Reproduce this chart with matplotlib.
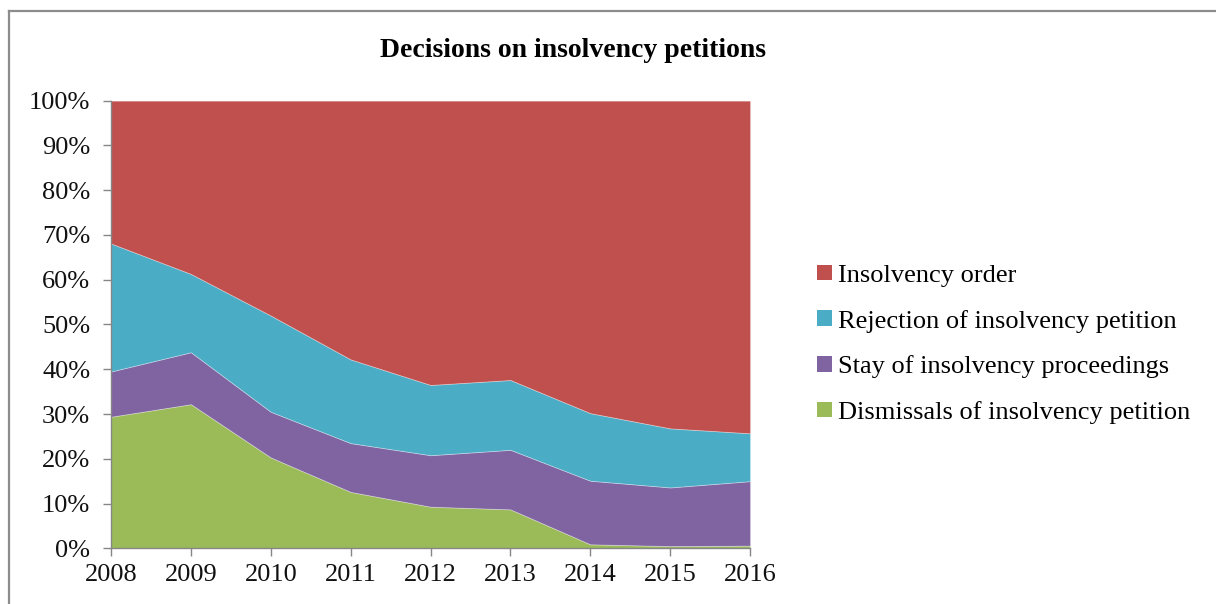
import matplotlib
matplotlib.use("Agg")
import matplotlib.pyplot as plt
from matplotlib.patches import Patch
from matplotlib.lines import Line2D
from matplotlib.ticker import FuncFormatter, MultipleLocator
import numpy as np

# Shares of decisions per year (percent of all decisions)
years = [2008, 2009, 2010, 2011, 2012, 2013, 2014, 2015, 2016]
dismissals = [29.4, 32.2, 20.3, 12.6, 9.3, 8.7, 0.9, 0.5, 0.6]
stay = [10.1, 11.6, 10.2, 10.9, 11.5, 13.3, 14.2, 13.1, 14.4]
rejection = [28.6, 17.5, 21.5, 18.7, 15.7, 15.6, 15.1, 13.2, 10.7]
insolvency_order = [31.9, 38.7, 48.0, 57.8, 63.5, 62.4, 69.8, 73.2, 74.3]

series_labels = [
    "Dismissals of insolvency petition",
    "Stay of insolvency proceedings",
    "Rejection of insolvency petition",
    "Insolvency order",
]
series_colors = ["#9BBB59", "#8064A2", "#4BACC6", "#C0504D"]

plt.rcParams["font.family"] = ["Liberation Serif", "DejaVu Serif"]

fig = plt.figure(figsize=(12.16, 6.04), dpi=100)
ax = fig.add_axes([0.0913, 0.0922, 0.5255, 0.7411])

data = np.array([dismissals, stay, rejection, insolvency_order], dtype=float)
data = data / data.sum(axis=0) * 100.0

ax.stackplot(years, data, colors=series_colors, linewidth=0.6,
             edgecolor=(1, 1, 1, 0.35))

ax.set_xlim(years[0], years[-1])
ax.set_ylim(0, 100)
ax.set_xticks(years)
ax.yaxis.set_major_locator(MultipleLocator(10))
ax.yaxis.set_major_formatter(FuncFormatter(lambda v, p: f"{v:.0f}%"))

for side in ("top", "right"):
    ax.spines[side].set_visible(False)
for side in ("left", "bottom"):
    ax.spines[side].set_color("#868686")
    ax.spines[side].set_linewidth(1.0)

ax.tick_params(axis="y", direction="out", length=6, width=1.0,
               color="#868686", labelsize=19, pad=9, labelcolor="#111111")
ax.tick_params(axis="x", direction="out", length=6, width=1.0,
               color="#868686", labelsize=19, pad=5, labelcolor="#111111")

fig.text(0.471, 0.917, "Decisions on insolvency petitions", ha="center",
         va="center", fontsize=20, fontweight="bold", color="#000000")

handles = [Patch(facecolor=c, edgecolor="none") for c in series_colors]
fig.legend(handles[::-1], series_labels[::-1], loc="upper left",
           bbox_to_anchor=(0.672, 0.562), frameon=False, fontsize=19,
           handlelength=0.55, handleheight=0.55, handletextpad=0.25,
           labelspacing=0.86, borderaxespad=0.0, borderpad=0.0)

# Outer chart frame (top and left edges)
fig.add_artist(Line2D([0.0074, 1.0], [0.9823, 0.9823], transform=fig.transFigure,
                      color="#8c8c8c", linewidth=1.6))
fig.add_artist(Line2D([0.0074, 0.0074], [0.0, 0.9823], transform=fig.transFigure,
                      color="#8c8c8c", linewidth=1.6))

fig.savefig("out.png", dpi=100, facecolor="white")
